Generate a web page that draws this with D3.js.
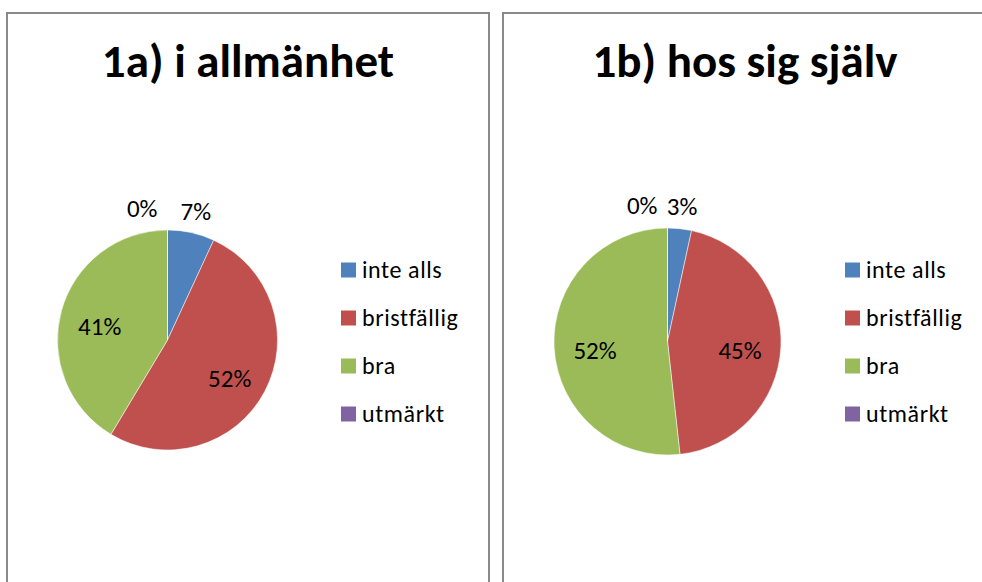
<!DOCTYPE html>
<html>
<head>
<meta charset="utf-8">
<script src="https://cdn.jsdelivr.net/npm/d3@7"></script>
<style>
  html, body { margin: 0; padding: 0; background: #fff; }
  svg text { font-family: Carlito, Calibri, Lato, sans-serif; fill: #000; }
</style>
</head>
<body>
<div id="chart"></div>
<script>
// categories and values (percent)
var categories = ["inte alls", "bristfällig", "bra", "utmärkt"];
var colors = ["#4f81bd", "#c0504d", "#9bbb59", "#8064a2"];
var titles = ["1a) i allmänhet", "1b) hos sig själv"];
var allmanhet = [6.9, 51.7, 41.4, 0];
var hosSigSjalv = [3.4, 44.8, 51.7, 0];

var width = 982, height = 582;

var svg = d3.select("#chart").append("svg")
    .attr("width", width)
    .attr("height", height);

// panel layout
var panels = [
  { x: 7,   w: 482, cx: 160.5, cy: 340,   r: 110,   legX: 334, values: allmanhet,   title: titles[0] },
  { x: 503, w: 484, cx: 164.5, cy: 341.5, r: 113.5, legX: 342, values: hosSigSjalv, title: titles[1] }
];

var fmt = d3.format(".0%");

panels.forEach(function(p) {
  var g = svg.append("g").attr("transform", "translate(" + p.x + ",13)");

  g.append("rect")
    .attr("width", p.w)
    .attr("height", 600)
    .style("fill", "none")
    .style("stroke", "#8a8a8a")
    .style("stroke-width", 2);

  g.append("text")
    .text(p.title)
    .attr("x", p.w / 2)
    .attr("y", 64)
    .style("font-size", "47px")
    .style("font-weight", "bold")
    .style("text-anchor", "middle");

  var total = d3.sum(p.values);
  var pie = d3.pie().sort(null).value(function(d) { return d; });
  var arcs = pie(p.values);
  var arc = d3.arc().innerRadius(0).outerRadius(p.r);
  var inner = d3.arc().innerRadius(p.r * 0.64).outerRadius(p.r * 0.64);
  var outer = d3.arc().innerRadius(p.r * 1.2).outerRadius(p.r * 1.2);

  var pg = g.append("g").attr("transform", "translate(" + p.cx + "," + (p.cy - 13) + ")");

  pg.selectAll("path")
    .data(arcs)
    .enter()
    .append("path")
      .attr("d", arc)
      .style("fill", function(d, i) { return colors[i]; })
      .style("stroke", "#fff")
      .style("stroke-width", 0.5);

  pg.selectAll("text")
    .data(arcs)
    .enter()
    .append("text")
      .text(function(d) { return fmt(d.data / total); })
      .attr("x", function(d) {
        var small = d.endAngle - d.startAngle < 0.5;
        var c = (small ? outer : inner).centroid(d);
        if (d.data === 0) return c[0] - 10;
        return c[0];
      })
      .attr("y", function(d) {
        var small = d.endAngle - d.startAngle < 0.5;
        var c = (small ? outer : inner).centroid(d);
        return small ? c[1] : c[1] + 5;
      })
      .attr("dy", "0.35em")
      .style("font-size", "25px")
      .style("text-anchor", function(d) { return d.data === 0 ? "end" : "middle"; });

  var leg = g.selectAll(".leg")
    .data(categories)
    .enter()
    .append("g")
      .attr("transform", function(d, i) { return "translate(" + p.legX + "," + (257 + i * 48) + ")"; });

  leg.append("rect")
    .attr("y", -7.5)
    .attr("width", 15)
    .attr("height", 15)
    .style("fill", function(d, i) { return colors[i]; });

  leg.append("text")
    .text(function(d) { return d; })
    .attr("x", 21)
    .attr("dy", "0.35em")
    .style("font-size", "24px")
    .style("letter-spacing", "0.6px");
});
</script>
</body>
</html>
